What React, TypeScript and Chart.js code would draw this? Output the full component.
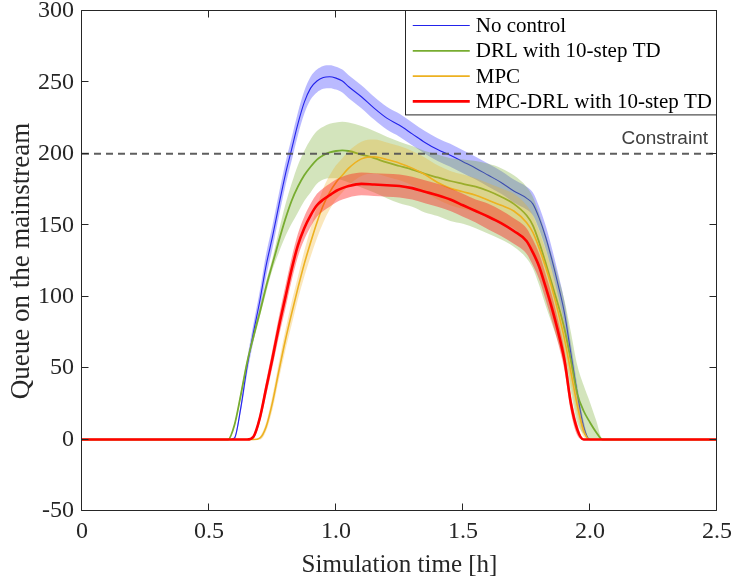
import React, { useEffect, useRef } from "react";
import { Chart, registerables } from "chart.js";

Chart.register(...registerables);

// ---- data ----
const timeH = [
  0, 0.55, 0.575, 0.6, 0.625, 0.65, 0.675, 0.7, 0.725, 0.75,
  0.775, 0.8, 0.825, 0.85, 0.875, 0.9, 0.925, 0.95, 0.975, 1.0,
  1.025, 1.05, 1.1, 1.15, 1.2, 1.25, 1.3, 1.35, 1.4, 1.45,
  1.5, 1.55, 1.6, 1.65, 1.7, 1.75, 1.775, 1.8, 1.825, 1.85,
  1.875, 1.9, 1.925, 1.95, 1.975, 2.0, 2.025, 2.05, 2.1, 2.5,
];

const noControl = [
  0, 0, 0, 1, 22, 51, 75, 97, 122, 142,
  164, 185, 203, 221, 236, 246, 251, 253.5, 254, 253,
  251, 247, 240, 232, 225, 220, 214, 208, 203, 199,
  194.5, 190, 185, 180, 174, 169, 165, 155, 142, 126,
  108, 88, 60, 32, 9, 0, 0, 0, 0, 0,
];
const noControlSpread = [
  0, 0, 0, 1, 3, 5, 6, 7, 8, 8,
  8, 8, 8, 8, 8, 8, 8, 8, 8, 8,
  8, 8, 8, 8, 8, 8, 8, 8, 8, 8,
  8, 8, 8, 8, 8, 8, 8, 8, 8, 8,
  8, 8, 7, 6, 4, 0, 0, 0, 0, 0,
];

const drl = [
  0, 0, 0, 10, 31, 54, 72, 89, 107, 123,
  139, 154, 167, 177, 185, 191, 196, 199, 201, 202,
  202.5, 202, 199.5, 197, 194, 191.5, 189, 186, 183.5, 181,
  179, 177, 174, 170, 165, 157, 150, 138, 124, 109,
  94, 77, 55, 32, 20, 12, 5, 0, 0, 0,
];
const drlUp = [
  0, 0, 0, 1, 2, 2, 3, 3, 4, 4,
  7, 10, 12, 15, 17, 19, 20, 20, 20, 20,
  20, 20, 20, 19, 18, 17, 16.5, 16, 16, 16,
  17, 18, 19, 20, 20, 20, 20, 20, 20, 20,
  20, 20, 20, 20, 18, 14, 8, 0, 0, 0,
];
const drlDown = [
  0, 0, 0, 1, 2, 2, 3, 3, 4, 4,
  8, 12, 16, 18, 18, 18, 17, 17, 18, 19,
  21, 22, 23, 24, 25, 26, 26, 27, 27, 28,
  28, 29, 30, 30, 30, 30, 30, 30, 30, 28,
  26, 24, 22, 20, 16, 12, 5, 0, 0, 0,
];

const mpc = [
  0, 0, 0, 0, 0, 0, 0, 1, 9, 26,
  48, 69, 88, 106, 123, 138, 152, 164, 173, 180,
  185, 190, 196.5, 198, 196, 193.5, 190, 185.5, 180, 176,
  173.5, 171, 167.5, 164, 160, 152, 145, 134, 121, 106,
  89, 70, 47, 24, 6, 0, 0, 0, 0, 0,
];
const mpcSpread = [
  0, 0, 0, 0, 0, 0, 0, 1, 3, 5,
  6, 7, 8, 8, 9, 10, 11, 12, 12, 12,
  12, 12, 12, 12, 12, 12, 12, 12, 12, 12,
  12, 12, 12, 12, 12, 12, 12, 12, 12, 12,
  11, 10, 9, 7, 4, 0, 0, 0, 0, 0,
];

const mpcDrl = [
  0, 0, 0, 0, 0, 0, 2, 15, 36, 57,
  79, 99, 119, 136, 148, 157, 164, 168, 171, 174,
  176, 177.5, 179, 178.5, 178, 177.5, 176, 173.5, 171, 168,
  164, 160, 156, 151.5, 146, 139, 131, 121, 107, 92,
  75, 55, 25, 7, 0, 0, 0, 0, 0, 0,
];
const mpcDrlSpread = [
  0, 0, 0, 0, 0, 0, 1, 3, 5, 6,
  7, 8, 8, 8, 8, 8, 8, 8, 8, 8,
  8, 8, 8, 8, 8, 8, 8, 8, 8, 8,
  8, 8, 9, 9, 9, 9, 9, 9, 9, 9,
  8, 7, 6, 4, 0, 0, 0, 0, 0, 0,
];

const constraintValue = 200;
const constraintLabel = "Constraint";
const xRange = [0, 2.5];
const yRange = [-50, 300];
const xStep = 0.5;
const yStep = 50;
const seriesLabels = [
  "No control",
  "DRL with 10-step TD",
  "MPC",
  "MPC-DRL with 10-step TD",
];
const xTitle = "Simulation time [h]";
const yTitle = "Queue on the mainstream";

// ---- styles ----
const SERIF = '"Liberation Serif", "Times New Roman", Times, serif';
const SANS = '"Liberation Sans", Arial, Helvetica, sans-serif';
const AXIS_COLOR = "#262626";

const pts = (vals: number[]) => timeH.map((t, i) => ({ x: t, y: vals[i] }));
const plus = (m: number[], s: number[]) => m.map((v, i) => v + s[i]);
const minus = (m: number[], s: number[]) => m.map((v, i) => Math.max(0, v - s[i]));

function buildDatasets() {
  const ds: any[] = [];
  const series = [
    { label: seriesLabels[0], mean: noControl, up: noControlSpread, down: noControlSpread, line: "rgb(35,35,235)", band: "rgba(40,40,255,0.32)", w: 1.1 },
    { label: seriesLabels[1], mean: drl, up: drlUp, down: drlDown, line: "rgb(119,172,48)", band: "rgba(119,172,48,0.32)", w: 1.8 },
    { label: seriesLabels[2], mean: mpc, up: mpcSpread, down: mpcSpread, line: "rgb(237,177,32)", band: "rgba(237,177,32,0.3)", w: 1.6 },
    { label: seriesLabels[3], mean: mpcDrl, up: mpcDrlSpread, down: mpcDrlSpread, line: "rgb(255,0,0)", band: "rgba(255,20,20,0.4)", w: 2.6 },
  ];
  let z = 1;
  series.forEach((s) => {
    const upperIdx = ds.length;
    const bandOrder = 100 - z;
    ds.push({
      label: s.label + " upper",
      data: pts(plus(s.mean, s.up)),
      borderWidth: 0,
      pointRadius: 0,
      fill: false,
      backgroundColor: s.band,
      borderColor: "transparent",
      cubicInterpolationMode: "monotone",
      order: bandOrder,
    });
    ds.push({
      label: s.label + " lower",
      data: pts(minus(s.mean, s.down)),
      borderWidth: 0,
      pointRadius: 0,
      fill: upperIdx,
      backgroundColor: s.band,
      borderColor: "transparent",
      cubicInterpolationMode: "monotone",
      order: bandOrder,
    });
    z++;
    ds.push({
      label: s.label,
      legendItem: true,
      data: pts(s.mean),
      borderWidth: s.w,
      borderColor: s.line,
      backgroundColor: s.line,
      pointRadius: 0,
      fill: false,
      cubicInterpolationMode: "monotone",
      order: 100 - z,
    });
    z++;
  });
  ds.push({
    label: constraintLabel,
    data: [
      { x: xRange[0], y: constraintValue },
      { x: xRange[1], y: constraintValue },
    ],
    borderWidth: 2,
    borderColor: "rgba(85,85,85,0.95)",
    borderDash: [7, 5],
    pointRadius: 0,
    fill: false,
    order: 1,
  });
  return ds;
}

const framePlugin = {
  id: "matlabFrame",
  afterDraw(chart: any) {
    const { ctx, chartArea } = chart;
    const { left, right, top, bottom } = chartArea;
    const xs = chart.scales.x;
    const ys = chart.scales.y;
    ctx.save();
    ctx.strokeStyle = AXIS_COLOR;
    ctx.lineWidth = 1;
    ctx.beginPath();
    ctx.rect(left - 0.5, top - 0.5, right - left, bottom - top);
    ctx.stroke();
    const tl = 7;
    ctx.beginPath();
    xs.ticks.forEach((t: any) => {
      const px = Math.round(xs.getPixelForValue(t.value)) - 0.5;
      ctx.moveTo(px, bottom - 0.5);
      ctx.lineTo(px, bottom - 0.5 - tl);
      ctx.moveTo(px, top - 0.5);
      ctx.lineTo(px, top - 0.5 + tl);
    });
    ys.ticks.forEach((t: any) => {
      const py = Math.round(ys.getPixelForValue(t.value)) - 0.5;
      ctx.moveTo(left - 0.5, py);
      ctx.lineTo(left - 0.5 + tl, py);
      ctx.moveTo(right - 0.5, py);
      ctx.lineTo(right - 0.5 - tl, py);
    });
    ctx.stroke();

    // constraint label
    ctx.font = `19px ${SANS}`;
    ctx.fillStyle = "#404040";
    ctx.textAlign = "right";
    ctx.textBaseline = "middle";
    ctx.fillText(constraintLabel, right - 9, ys.getPixelForValue(constraintValue) - 15);

    // legend box
    const items = chart.data.datasets.filter((d: any) => d.legendItem);
    ctx.font = `21px ${SERIF}`;
    const maxText = Math.max(...items.map((d: any) => ctx.measureText(d.label).width));
    const padL = 6.5, sample = 57, gap = 6, padR = 5, rowH = 25.3, firstRow = 15;
    const w = padL + sample + gap + maxText + padR;
    const h = firstRow + (items.length - 1) * rowH + 13.5;
    const bx = right - w;
    const by = top - 0.5;
    ctx.fillStyle = "#ffffff";
    ctx.fillRect(bx, by, w, h);
    ctx.strokeStyle = AXIS_COLOR;
    ctx.lineWidth = 1;
    ctx.strokeRect(Math.round(bx) - 0.5, by, right - Math.round(bx), h);
    items.forEach((d: any, i: number) => {
      const cy = by + firstRow + i * rowH;
      ctx.strokeStyle = d.borderColor;
      ctx.lineWidth = d.borderWidth;
      ctx.beginPath();
      ctx.moveTo(bx + padL, cy);
      ctx.lineTo(bx + padL + sample, cy);
      ctx.stroke();
      ctx.fillStyle = "#000000";
      ctx.textAlign = "left";
      ctx.textBaseline = "middle";
      ctx.fillText(d.label, bx + padL + sample + gap, cy + 1);
    });
    ctx.restore();
  },
};

export default function App() {
  const ref = useRef<HTMLCanvasElement | null>(null);
  useEffect(() => {
    document.body.style.margin = "0";
    const canvas = ref.current;
    if (!canvas) return;
    const chart = new Chart(canvas, {
      type: "line",
      data: { datasets: buildDatasets() },
      options: {
        animation: false,
        responsive: false,
        devicePixelRatio: 1,
        events: [],
        layout: { padding: { top: 11, right: 16, left: 0, bottom: 0 } },
        plugins: {
          legend: { display: false },
          tooltip: { enabled: false },
        },
        scales: {
          x: {
            type: "linear",
            min: xRange[0],
            max: xRange[1],
            grid: { display: false, drawTicks: false },
            border: { display: false },
            ticks: {
              stepSize: xStep,
              padding: 6,
              color: AXIS_COLOR,
              font: { family: SERIF, size: 24 },
              maxRotation: 0,
            },
            title: {
              display: true,
              text: xTitle,
              color: AXIS_COLOR,
              font: { family: SERIF, size: 25 },
              padding: { top: 0, bottom: 1 },
            },
            afterFit: (scale: any) => {
              scale.height = 70;
              scale.paddingLeft = 0;
              scale.paddingRight = 0;
            },
          },
          y: {
            type: "linear",
            min: yRange[0],
            max: yRange[1],
            grid: { display: false, drawTicks: false },
            border: { display: false },
            ticks: {
              stepSize: yStep,
              padding: 8,
              color: AXIS_COLOR,
              font: { family: SERIF, size: 24 },
            },
            title: {
              display: true,
              text: yTitle,
              color: AXIS_COLOR,
              font: { family: SERIF, size: 27 },
              padding: { top: 6, bottom: 0 },
            },
            afterFit: (scale: any) => {
              scale.width = 82;
              scale.paddingTop = 0;
              scale.paddingBottom = 0;
            },
          },
        },
      } as any,
      plugins: [framePlugin],
    });
    return () => chart.destroy();
  }, []);
  return (
    <div style={{ width: 733, height: 581 }}>
      <canvas ref={ref} width={733} height={581} style={{ display: "block" }} />
    </div>
  );
}
